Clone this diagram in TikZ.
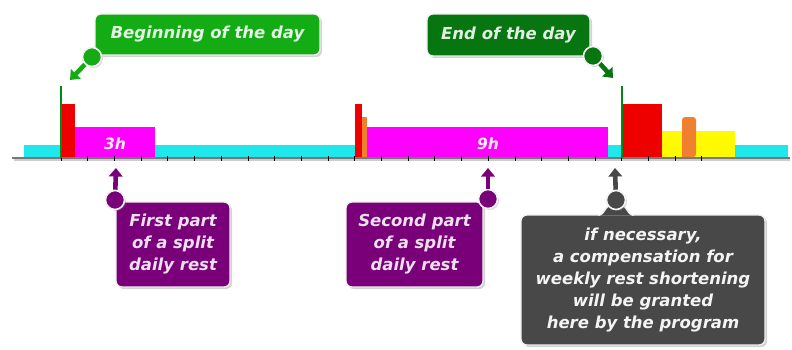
\documentclass[tikz,border=0pt]{standalone}
\usepackage{fontspec}
\setmainfont{DejaVu Sans}
\usetikzlibrary{arrows.meta,shadows,calc}
\definecolor{cyanbar}{RGB}{30,232,236}
\definecolor{pinkbar}{RGB}{255,0,255}
\definecolor{redbar}{RGB}{238,0,0}
\definecolor{orangebar}{RGB}{240,128,48}
\definecolor{yellowbar}{RGB}{255,250,0}
\definecolor{dayline}{RGB}{0,140,20}
\definecolor{lightgreen}{RGB}{20,172,20}
\definecolor{darkgreen}{RGB}{8,118,16}
\definecolor{purplebox}{RGB}{122,0,122}
\definecolor{graybox}{RGB}{72,72,72}
\definecolor{axisgray}{RGB}{120,120,120}
\begin{document}
\begin{tikzpicture}[x=1pt,y=-1pt,
  callout/.style={rounded corners=6pt, draw=white!88!gray, line width=1.3pt,
    font=\bfseries\itshape\fontsize{16.5}{22}\selectfont, align=center, inner sep=0pt,
    drop shadow={opacity=0.35, shadow xshift=2pt, shadow yshift=-2pt}},
  knob/.style={circle, draw=white!90!gray, line width=1.6pt, minimum size=19pt, inner sep=0pt,
    drop shadow={opacity=0.3, shadow xshift=1.5pt, shadow yshift=-1.5pt}},
  pointerbg/.style={draw=white, line width=7.5pt, -{Triangle[length=11pt,width=18pt]}},
  pointer/.style={line width=4.6pt, -{Triangle[length=8.5pt,width=13.5pt]}},
  hourlabel/.style={font=\bfseries\itshape\fontsize{15.5}{18}\selectfont, text=white!92!pinkbar, inner sep=0pt}
]
\useasboundingbox (0,0) rectangle (792,349);

% ---- axis ----
\draw[black!20, line width=2pt] (14,160) -- (790,160);
\draw[axisgray, line width=1.6pt] (12,158) -- (790,158);

% ---- bars ----
\fill[cyanbar] (24,145) rectangle (61,157);
\fill[redbar] (62,104) rectangle (75,157);
\fill[pinkbar] (75,127) rectangle (155,157);
\fill[cyanbar] (155,145) rectangle (355,157);
\fill[redbar] (355,104) rectangle (362,157);
\fill[orangebar] (362,117) rectangle (367,157);
\fill[pinkbar] (367,127) rectangle (608,157);
\fill[cyanbar] (608,145) rectangle (622,157);
\fill[redbar] (623,104) rectangle (662,157);
\fill[yellowbar] (662,131) rectangle (735,157);
\fill[orangebar, rounded corners=3pt] (682,157) -- (682,117) -- (696,117) -- (696,157) [sharp corners] -- cycle;
\fill[cyanbar] (735,145) rectangle (788,157);

\node[hourlabel] (h3) at (115,144) {3h};
\node[hourlabel] (h9) at (488,144) {9h};

% ---- ticks ----
\foreach \i in {0,...,24}
  \draw[black, line width=0.8pt] ({61+\i*26.7},155.5) -- ++(0,5);

% ---- day limit lines ----
\draw[dayline, line width=1.6pt] (61,86) -- (61,158);
\draw[dayline, line width=1.6pt] (622,86) -- (622,158);

% ---- target points ----
\coordinate (tBeg) at (70,80);
\coordinate (tEnd) at (613,78);
\coordinate (tFirst) at (116,168);
\coordinate (tSecond) at (488,168);
\coordinate (tComp) at (615,168);

% ---- callouts ----
\node[callout, fill=lightgreen, text=white!88!lightgreen, minimum width=225pt, minimum height=41pt]
  (beg) at (207.5,34.5) {Beginning of the day};
\node[callout, fill=darkgreen, text=white!88!darkgreen, minimum width=163pt, minimum height=42pt]
  (end) at (508.5,35) {End of the day};
\node[callout, fill=purplebox, text=white!88!purplebox, minimum width=114pt, minimum height=85pt]
  (first) at (173,244.5) {First part\\of a split\\daily rest};
\node[callout, fill=purplebox, text=white!88!purplebox, minimum width=137pt, minimum height=85pt]
  (second) at (414.5,244.5) {Second part\\of a split\\daily rest};
\node[callout, fill=graybox, text=white!94!graybox, minimum width=244pt, minimum height=130pt]
  (comp) at (643,280) {if necessary,\\a compensation for\\weekly rest shortening\\will be granted\\here by the program};

% neck of the grey callout
\fill[graybox, draw=white!88!gray, line width=1.3pt]
  (598,215.6) .. controls (607,214) and (604,203) .. (616,203)
  .. controls (628,203) and (625,214) .. (634,215.6);
\fill[graybox] (597,216.4) rectangle (635,219);

% ---- knobs ----
\node[knob, fill=lightgreen] (kBeg) at (92,57) {};
\node[knob, fill=darkgreen] (kEnd) at (593,56) {};
\node[knob, fill=purplebox] (kFirst) at (115,200) {};
\node[knob, fill=purplebox] (kSecond) at (488,199) {};
\node[knob, fill=graybox] (kComp) at (616,200) {};

% ---- pointers ----
\draw[pointerbg] (kBeg) -- (tBeg);
\draw[pointer, lightgreen] (kBeg) -- (tBeg);
\draw[pointerbg] (kEnd) -- (tEnd);
\draw[pointer, darkgreen] (kEnd) -- (tEnd);
\draw[pointerbg] (kFirst) -- (tFirst);
\draw[pointer, purplebox] (kFirst) -- (tFirst);
\draw[pointerbg] (kSecond) -- (tSecond);
\draw[pointer, purplebox] (kSecond) -- (tSecond);
\draw[pointerbg] (kComp) -- (tComp);
\draw[pointer, graybox] (kComp) -- (tComp);
\end{tikzpicture}
\end{document}
